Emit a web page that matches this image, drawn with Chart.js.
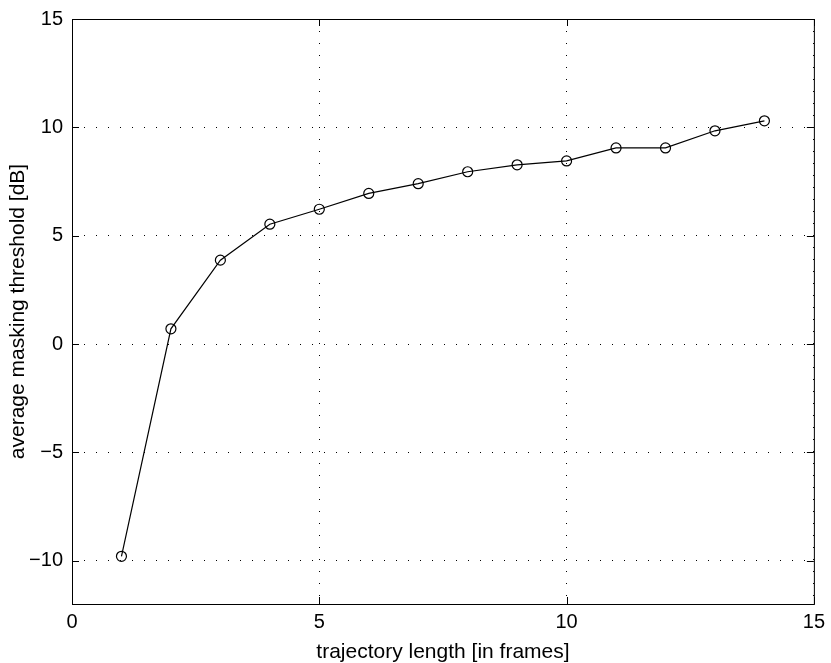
<!DOCTYPE html>
<html>
<head>
<meta charset="utf-8">
<script src="https://cdn.jsdelivr.net/npm/chart.js@4/dist/chart.umd.min.js"></script>
<style>
  html, body { margin: 0; padding: 0; background: #fff; }
  #wrap { width: 831px; height: 663px; }
</style>
</head>
<body>
<div id="wrap"><canvas id="chart"></canvas></div>
<script>
// trajectory length (frames) vs average masking threshold (dB)
var frames = [1, 2, 3, 4, 5, 6, 7, 8, 9, 10, 11, 12, 13, 14];
var threshold = [-9.8, 0.7, 3.87, 5.53, 6.22, 6.95, 7.4, 7.95, 8.27, 8.45, 9.05, 9.05, 9.84, 10.3];
var xTicks = [0, 5, 10, 15];
var yTicks = [-10, -5, 0, 5, 10, 15];

var points = [];
for (var i = 0; i < frames.length; i++) {
    points.push({ x: frames[i], y: threshold[i] });
}

var font = "'Liberation Sans', Arial, Helvetica, sans-serif";

// box around the plot plus inward ticks, matlab style
var boxPlugin = {
    id: 'box',
    afterDraw: function(chart) {
        var ctx = chart.ctx;
        var a = chart.chartArea;
        var xs = chart.scales.x, ys = chart.scales.y;
        ctx.save();
        ctx.strokeStyle = '#000';
        ctx.lineWidth = 1;
        ctx.setLineDash([]);
        ctx.strokeRect(a.left + 0.5, a.top + 0.5, a.right - a.left, a.bottom - a.top);
        var len = 7;
        ctx.beginPath();
        xTicks.forEach(function(v) {
            var px = Math.round(xs.getPixelForValue(v)) + 0.5;
            ctx.moveTo(px, a.bottom); ctx.lineTo(px, a.bottom - len);
            ctx.moveTo(px, a.top); ctx.lineTo(px, a.top + len);
        });
        yTicks.forEach(function(v) {
            var py = Math.round(ys.getPixelForValue(v)) + 0.5;
            ctx.moveTo(a.left, py); ctx.lineTo(a.left + len, py);
            ctx.moveTo(a.right, py); ctx.lineTo(a.right - len, py);
        });
        ctx.stroke();
        ctx.restore();
    }
};

new Chart(document.getElementById("chart"), {
    type: 'line',
    data: {
        datasets: [{
            data: points,
            borderColor: '#000',
            borderWidth: 1.2,
            backgroundColor: 'rgba(0,0,0,0)',
            pointStyle: 'circle',
            pointRadius: 5,
            pointBorderWidth: 1.2,
            pointBorderColor: '#000',
            pointBackgroundColor: 'rgba(0,0,0,0)',
            tension: 0
        }]
    },
    options: {
        responsive: true,
        maintainAspectRatio: false,
        animation: false,
        layout: { padding: { top: 17, right: 15, left: 0, bottom: 0 } },
        plugins: {
            legend: { display: false },
            tooltip: { enabled: false }
        },
        scales: {
            x: {
                type: 'linear',
                min: 0,
                max: 15,
                afterBuildTicks: function(scale) {
                    scale.ticks = xTicks.map(function(v) { return { value: v }; });
                },
                afterFit: function(scale) { scale.height = 59; },
                grid: {
                    color: '#000',
                    lineWidth: 1,
                    drawTicks: false
                },
                border: { display: false, dash: [1, 11] },
                ticks: {
                    color: '#000',
                    padding: 6,
                    maxRotation: 0,
                    font: { family: font, size: 20 }
                },
                title: {
                    display: true,
                    text: 'trajectory length [in frames]',
                    color: '#000',
                    padding: { top: 2, bottom: 0 },
                    font: { family: font, size: 21, lineHeight: 1 }
                }
            },
            y: {
                type: 'linear',
                min: -12,
                max: 15,
                afterBuildTicks: function(scale) {
                    scale.ticks = yTicks.map(function(v) { return { value: v }; });
                },
                afterFit: function(scale) { scale.width = 72; },
                grid: {
                    color: '#000',
                    lineWidth: 1,
                    drawTicks: false
                },
                border: { display: false, dash: [1, 11] },
                ticks: {
                    color: '#000',
                    padding: 9,
                    font: { family: font, size: 20, lineHeight: 1 },
                    callback: function(v) { return String(v).replace('-', '\u2212'); }
                },
                title: {
                    display: true,
                    text: 'average masking threshold [dB]',
                    color: '#000',
                    padding: { top: 6, bottom: 0 },
                    font: { family: font, size: 21 }
                }
            }
        }
    },
    plugins: [boxPlugin]
});
</script>
</body>
</html>
